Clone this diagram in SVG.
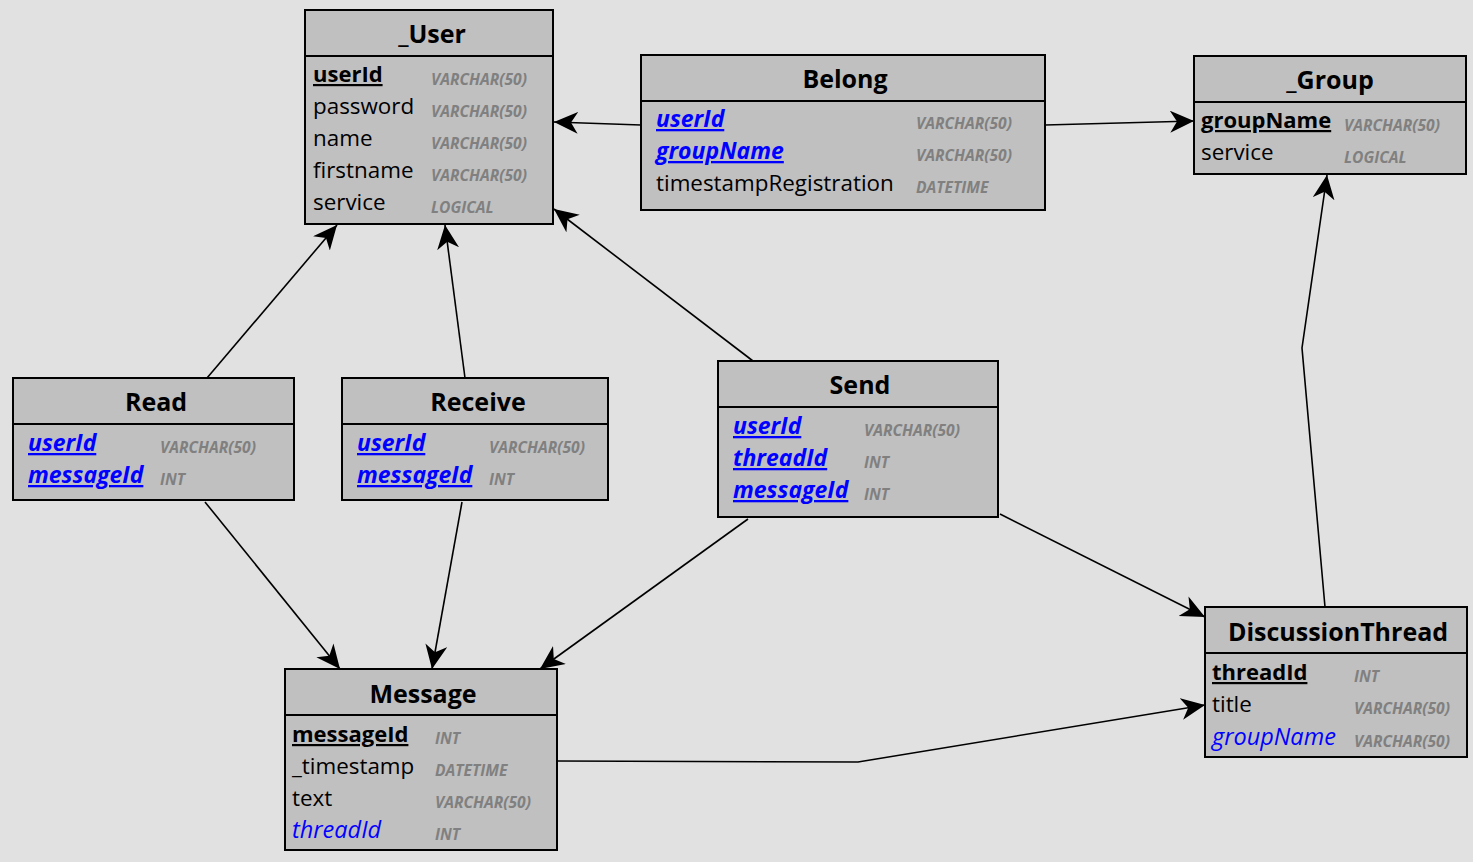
<svg xmlns="http://www.w3.org/2000/svg" width="1473" height="862" viewBox="0 0 1473 862">
<style>
.tb{fill:#c0c0c0;stroke:#000;stroke-width:2}
.dv{stroke:#000;stroke-width:2}
.ttl{font-family:"Open Sans","DejaVu Sans",sans-serif;font-size:25px;font-weight:bold;fill:#000;text-anchor:middle}
.f{font-family:"Open Sans","DejaVu Sans",sans-serif;font-size:22.4px;fill:#000}
.pk{font-weight:bold;font-size:22px;text-decoration:underline}
.fk{font-weight:bold;font-style:italic;font-size:23px;fill:#0000ff;text-decoration:underline}
.fi{font-style:italic;font-size:23.5px;fill:#0000ff}
.ty{font-family:"Open Sans","DejaVu Sans",sans-serif;font-size:15.6px;font-weight:bold;font-style:italic;fill:#808080}
.cn{fill:none;stroke:#000;stroke-width:1.6;marker-end:url(#ah)}
</style>
<defs>
<marker id="ah" markerUnits="userSpaceOnUse" markerWidth="26" markerHeight="24" refX="24" refY="11" orient="auto">
<path d="M0,0 L24,11 L0,22 L7,11 Z" fill="#000"/>
</marker>
</defs>
<rect width="1473" height="862" fill="#e1e1e1"/>

<g id="connectors">
<line class="cn" x1="641" y1="125" x2="554" y2="122"/>
<line class="cn" x1="1045" y1="125" x2="1194" y2="121"/>
<line class="cn" x1="207" y1="378" x2="337" y2="225"/>
<line class="cn" x1="465" y1="378" x2="445" y2="225"/>
<line class="cn" x1="753" y1="361" x2="554" y2="209"/>
<line class="cn" x1="205" y1="502" x2="340" y2="669"/>
<line class="cn" x1="462" y1="502" x2="432" y2="669"/>
<line class="cn" x1="748" y1="519" x2="540" y2="669"/>
<line class="cn" x1="1000" y1="514" x2="1205" y2="617"/>
<polyline class="cn" points="1325,607 1302,348 1327,175"/>
<polyline class="cn" points="557,761 858,762 1205,705"/>
</g>

<g id="user">
<rect class="tb" x="305" y="10" width="248" height="214"/>
<line class="dv" x1="305" y1="56" x2="553" y2="56"/>
<text class="ttl" x="432" y="43">_User</text>
<text class="f pk" x="313" y="82">userId</text><text class="ty" x="431" y="85">VARCHAR(50)</text>
<text class="f" x="313" y="114">password</text><text class="ty" x="431" y="117">VARCHAR(50)</text>
<text class="f" x="313" y="146">name</text><text class="ty" x="431" y="149">VARCHAR(50)</text>
<text class="f" x="313" y="178">firstname</text><text class="ty" x="431" y="181">VARCHAR(50)</text>
<text class="f" x="313" y="210">service</text><text class="ty" x="431" y="213">LOGICAL</text>
</g>

<g id="belong">
<rect class="tb" x="641" y="55" width="404" height="155"/>
<line class="dv" x1="641" y1="101" x2="1045" y2="101"/>
<text class="ttl" x="845" y="88">Belong</text>
<text class="f fk" x="656" y="127">userId</text><text class="ty" x="916" y="129">VARCHAR(50)</text>
<text class="f fk" x="656" y="159">groupName</text><text class="ty" x="916" y="161">VARCHAR(50)</text>
<text class="f" x="656" y="191">timestampRegistration</text><text class="ty" x="916" y="193">DATETIME</text>
</g>

<g id="group">
<rect class="tb" x="1194" y="56" width="272" height="118"/>
<line class="dv" x1="1194" y1="102" x2="1466" y2="102"/>
<text class="ttl" x="1330" y="89">_Group</text>
<text class="f pk" x="1201" y="128">groupName</text><text class="ty" x="1344" y="131">VARCHAR(50)</text>
<text class="f" x="1201" y="160">service</text><text class="ty" x="1344" y="163">LOGICAL</text>
</g>

<g id="read">
<rect class="tb" x="13" y="378" width="281" height="122"/>
<line class="dv" x1="13" y1="424" x2="294" y2="424"/>
<text class="ttl" x="156" y="411">Read</text>
<text class="f fk" x="28" y="451">userId</text><text class="ty" x="160" y="453">VARCHAR(50)</text>
<text class="f fk" x="28" y="483">messageId</text><text class="ty" x="160" y="485">INT</text>
</g>

<g id="receive">
<rect class="tb" x="342" y="378" width="266" height="122"/>
<line class="dv" x1="342" y1="424" x2="608" y2="424"/>
<text class="ttl" x="478" y="411">Receive</text>
<text class="f fk" x="357" y="451">userId</text><text class="ty" x="489" y="453">VARCHAR(50)</text>
<text class="f fk" x="357" y="483">messageId</text><text class="ty" x="489" y="485">INT</text>
</g>

<g id="send">
<rect class="tb" x="718" y="361" width="280" height="156"/>
<line class="dv" x1="718" y1="407" x2="998" y2="407"/>
<text class="ttl" x="860" y="394">Send</text>
<text class="f fk" x="733" y="434">userId</text><text class="ty" x="864" y="436">VARCHAR(50)</text>
<text class="f fk" x="733" y="466">threadId</text><text class="ty" x="864" y="468">INT</text>
<text class="f fk" x="733" y="498">messageId</text><text class="ty" x="864" y="500">INT</text>
</g>

<g id="message">
<rect class="tb" x="285" y="669" width="272" height="181"/>
<line class="dv" x1="285" y1="715" x2="557" y2="715"/>
<text class="ttl" x="423" y="703">Message</text>
<text class="f pk" x="292" y="742">messageId</text><text class="ty" x="435" y="744">INT</text>
<text class="f" x="292" y="774">_timestamp</text><text class="ty" x="435" y="776">DATETIME</text>
<text class="f" x="292" y="806">text</text><text class="ty" x="435" y="808">VARCHAR(50)</text>
<text class="f fi" x="292" y="838">threadId</text><text class="ty" x="435" y="840">INT</text>
</g>

<g id="discussionthread">
<rect class="tb" x="1205" y="607" width="262" height="150"/>
<line class="dv" x1="1205" y1="653" x2="1467" y2="653"/>
<text class="ttl" x="1338" y="641">DiscussionThread</text>
<text class="f pk" x="1212" y="680">threadId</text><text class="ty" x="1354" y="682">INT</text>
<text class="f" x="1212" y="712">title</text><text class="ty" x="1354" y="714">VARCHAR(50)</text>
<text class="f fi" x="1212" y="745">groupName</text><text class="ty" x="1354" y="747">VARCHAR(50)</text>
</g>
</svg>
